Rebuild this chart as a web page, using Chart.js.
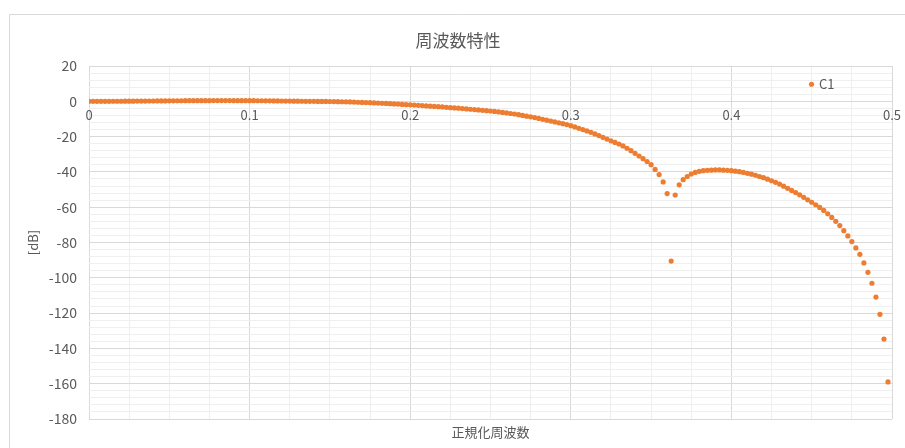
<!DOCTYPE html>
<html>
<head>
<meta charset="utf-8">
<script src="https://cdn.jsdelivr.net/npm/chart.js@4/dist/chart.umd.min.js"></script>
<style>
html,body{margin:0;padding:0;background:#fff;overflow:hidden}
#wrap{width:905px;height:448px;position:relative}
</style>
</head>
<body>
<div id="wrap"><canvas id="c" width="905" height="448"></canvas></div>
<script>
const FONT = "'Noto Sans CJK JP','Noto Sans',sans-serif";
const TEXT_COLOR = '#595959';

const chartTitle = '周波数特性';
const xAxisTitle = '正規化周波数';
const yAxisTitle = '[dB]';
const seriesName = 'C1';

// normalized frequency (x)
const freq = [
  0,0.0025,0.005,0.0075,0.01,0.0125,0.015,0.0175,0.02,0.0225,0.025,0.0275,0.03,0.0325,0.035,0.0375,0.04,0.0425,0.045,0.0475,
  0.05,0.0525,0.055,0.0575,0.06,0.0625,0.065,0.0675,0.07,0.0725,0.075,0.0775,0.08,0.0825,0.085,0.0875,0.09,0.0925,0.095,0.0975,
  0.1,0.1025,0.105,0.1075,0.11,0.1125,0.115,0.1175,0.12,0.1225,0.125,0.1275,0.13,0.1325,0.135,0.1375,0.14,0.1425,0.145,0.1475,
  0.15,0.1525,0.155,0.1575,0.16,0.1625,0.165,0.1675,0.17,0.1725,0.175,0.1775,0.18,0.1825,0.185,0.1875,0.19,0.1925,0.195,0.1975,
  0.2,0.2025,0.205,0.2075,0.21,0.2125,0.215,0.2175,0.22,0.2225,0.225,0.2275,0.23,0.2325,0.235,0.2375,0.24,0.2425,0.245,0.2475,
  0.25,0.2525,0.255,0.2575,0.26,0.2625,0.265,0.2675,0.27,0.2725,0.275,0.2775,0.28,0.2825,0.285,0.2875,0.29,0.2925,0.295,0.2975,
  0.3,0.3025,0.305,0.3075,0.31,0.3125,0.315,0.3175,0.32,0.3225,0.325,0.3275,0.33,0.3325,0.335,0.3375,0.34,0.3425,0.345,0.3475,
  0.35,0.3525,0.355,0.3575,0.36,0.3625,0.365,0.3675,0.37,0.3725,0.375,0.3775,0.38,0.3825,0.385,0.3875,0.39,0.3925,0.395,0.3975,
  0.4,0.4025,0.405,0.4075,0.41,0.4125,0.415,0.4175,0.42,0.4225,0.425,0.4275,0.43,0.4325,0.435,0.4375,0.44,0.4425,0.445,0.4475,
  0.45,0.4525,0.455,0.4575,0.46,0.4625,0.465,0.4675,0.47,0.4725,0.475,0.4775,0.48,0.4825,0.485,0.4875,0.49,0.4925,0.495,0.4975
];

// magnitude response C1 [dB]
const gainDb = [
  0,0,0,0,0,0.01,0.02,0.03,0.04,0.05,0.07,0.08,0.1,0.12,0.14,0.16,0.18,0.2,0.22,0.24,
  0.26,0.28,0.3,0.31,0.33,0.34,0.35,0.36,0.37,0.38,0.38,0.39,0.39,0.39,0.39,0.39,0.38,0.38,0.37,0.36,
  0.35,0.34,0.32,0.3,0.28,0.26,0.24,0.21,0.18,0.15,0.12,0.09,0.06,0.03,0,-0.02,-0.04,-0.06,-0.08,-0.09,
  -0.1,-0.15,-0.2,-0.25,-0.3,-0.38,-0.45,-0.53,-0.62,-0.71,-0.8,-0.9,-1,-1.1,-1.2,-1.35,-1.5,-1.6,-1.75,-1.9,
  -2,-2.15,-2.3,-2.45,-2.6,-2.75,-2.9,-3.05,-3.2,-3.4,-3.6,-3.75,-3.9,-4.1,-4.3,-4.5,-4.7,-4.9,-5.1,-5.3,
  -5.5,-5.75,-6,-6.3,-6.6,-6.9,-7.2,-7.6,-8,-8.4,-8.8,-9.2,-9.7,-10.2,-10.7,-11.2,-11.7,-12.2,-12.7,-13.2,
  -13.8,-14.5,-15.3,-16,-16.8,-17.6,-18.5,-19.4,-20.4,-21.4,-22.4,-23.3,-24.2,-25.3,-26.6,-28,-29.5,-31,-32.5,-34.1,
  -35.9,-38.6,-41.5,-45.7,-52.3,-90.5,-53.1,-47.3,-44.4,-42.6,-41.2,-40.3,-39.7,-39.3,-39.1,-39,-38.9,-38.9,-39,-39.1,
  -39.3,-39.6,-39.9,-40.3,-40.8,-41.3,-41.9,-42.6,-43.3,-44.1,-45,-45.9,-46.9,-48.1,-49.3,-50.5,-51.7,-53,-54.4,-55.8,
  -57.2,-58.6,-60.1,-61.8,-63.7,-65.8,-68,-70.4,-73.3,-76.3,-79.5,-83.1,-86.7,-91.6,-96.9,-103.1,-110.9,-120.7,-134.7,-159
];

// axis ticks
const xTickLabels = [0, 0.1, 0.2, 0.3, 0.4, 0.5];
const yTickLabels = [20, 0, -20, -40, -60, -80, -100, -120, -140, -160, -180];
const xMinorStep = 0.025;
const yMinorStep = 4;

const MAJOR = '#d9d9d9';
const MINOR = '#efefef';
const SERIES_COLOR = '#ED7D31';

const xMajorStep = xTickLabels[1] - xTickLabels[0];
const yMajorStep = yTickLabels[0] - yTickLabels[1];
const isMultiple = (v, s) => Math.abs(v / s - Math.round(v / s)) < 1e-6;

const framePlugin = {
  id: 'frame',
  beforeDraw(chart) {
    const c = chart.ctx;
    c.save();
    c.fillStyle = '#ffffff';
    c.fillRect(0, 0, chart.width, chart.height);
    c.strokeStyle = '#d9d9d9';
    c.lineWidth = 1;
    c.beginPath();
    c.moveTo(9.5, chart.height);
    c.lineTo(9.5, 14.5);
    c.lineTo(chart.width, 14.5);
    c.stroke();
    c.restore();
  }
};

const legendPlace = {
  id: 'legendPlace',
  afterLayout(chart) {
    const lg = chart.legend;
    if (!lg) return;
    const w = 70, h = 30;
    lg.left = 800.5; lg.top = 67.8;
    lg.right = lg.left + w; lg.bottom = lg.top + h;
    lg.width = w; lg.height = h;
  }
};

new Chart(document.getElementById('c'), {
  type: 'scatter',
  data: {
    datasets: [{
      label: seriesName,
      data: freq.map((f, i) => ({ x: f, y: gainDb[i] })),
      backgroundColor: SERIES_COLOR,
      borderColor: SERIES_COLOR,
      borderWidth: 0,
      pointRadius: 2.6,
      pointHoverRadius: 2.6,
      pointStyle: 'circle'
    }]
  },
  options: {
    responsive: false,
    animation: false,
    devicePixelRatio: 1,
    events: [],
    layout: { padding: { left: 24, right: 13, top: 14, bottom: 0 } },
    plugins: {
      title: {
        display: true, text: chartTitle, color: TEXT_COLOR,
        font: { family: FONT, size: 17, weight: 'normal' },
        padding: { top: 16, bottom: 15.6 }
      },
      legend: {
        display: true, position: 'chartArea', align: 'start',
        labels: {
          usePointStyle: true, pointStyle: 'circle', boxWidth: 2, boxHeight: 3.6,
          padding: 10, color: TEXT_COLOR, font: { family: FONT, size: 13 }
        }
      },
      tooltip: { enabled: false }
    },
    scales: {
      x: {
        type: 'linear', position: 'bottom',
        min: xTickLabels[0], max: xTickLabels[xTickLabels.length - 1],
        ticks: { display: false, stepSize: xMinorStep, autoSkip: false, maxTicksLimit: 100 },
        grid: {
          drawTicks: false, lineWidth: 1,
          color: c => (c.tick && isMultiple(c.tick.value, xMajorStep)) ? MAJOR : MINOR
        },
        border: { display: false },
        title: {
          display: true, text: xAxisTitle, color: TEXT_COLOR,
          font: { family: FONT, size: 13 }, padding: { top: 0, bottom: 8.2 }
        },
        afterFit(s) { s.height = 29; s.paddingLeft = 0; s.paddingRight = 0; }
      },
      x2: {
        type: 'linear', position: { y: 0 },
        min: xTickLabels[0], max: xTickLabels[xTickLabels.length - 1],
        ticks: {
          stepSize: xMajorStep, autoSkip: false, color: TEXT_COLOR,
          font: { family: FONT, size: 13 }, padding: 6, maxRotation: 0
        },
        grid: { display: false, drawTicks: false },
        border: { display: false },
        afterFit(s) { s.paddingLeft = 0; s.paddingRight = 0; }
      },
      y: {
        type: 'linear', position: 'left',
        min: yTickLabels[yTickLabels.length - 1], max: yTickLabels[0],
        ticks: {
          stepSize: yMinorStep, autoSkip: false, maxTicksLimit: 100,
          color: TEXT_COLOR, font: { family: FONT, size: 14 }, padding: 12,
          callback: v => isMultiple(v, yMajorStep) ? String(v) : ''
        },
        grid: {
          drawTicks: false, lineWidth: 1,
          color: c => (c.tick && isMultiple(c.tick.value, yMajorStep)) ? MAJOR : MINOR
        },
        border: { display: false },
        title: {
          display: true, text: yAxisTitle, color: TEXT_COLOR,
          font: { family: FONT, size: 13 }, padding: { top: 1, bottom: 0 }
        },
        afterFit(s) { s.width = 65; }
      }
    }
  },
  plugins: [framePlugin, legendPlace]
});
</script>
</body>
</html>
